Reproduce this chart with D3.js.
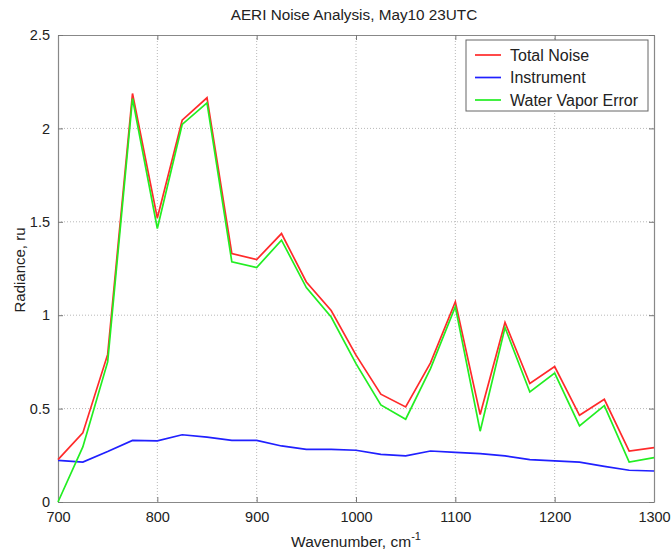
<!DOCTYPE html>
<html><head><meta charset="utf-8">
<script src="https://cdn.jsdelivr.net/npm/d3@7"></script>
<style>body{margin:0;background:#fff}svg{display:block;font-family:"Liberation Sans",Arial,sans-serif}</style>
</head><body><svg id="c" width="672" height="552"></svg>
<script>
const wavenumbers = [700,725,750,775,800,825,850,875,900,925,950,975,1000,1025,1050,1075,1100,1125,1150,1175,1200,1225,1250,1275,1300];
const totalNoise = [0.227,0.37,0.79,2.187,1.52,2.044,2.164,1.33,1.298,1.437,1.178,1.025,0.786,0.577,0.509,0.745,1.071,0.468,0.961,0.634,0.725,0.464,0.55,0.272,0.291];
const instrument = [0.223,0.214,0.27,0.33,0.327,0.36,0.347,0.33,0.33,0.30,0.282,0.282,0.277,0.255,0.247,0.273,0.266,0.259,0.247,0.227,0.22,0.213,0.191,0.17,0.166];
const waterVapor = [0.0,0.295,0.75,2.16,1.464,2.021,2.137,1.286,1.255,1.402,1.148,0.99,0.741,0.52,0.443,0.714,1.045,0.379,0.934,0.589,0.69,0.407,0.516,0.214,0.238];
const xTicks = [700,800,900,1000,1100,1200,1300];
const yTicks = [0,0.5,1,1.5,2,2.5];
const seriesNames = ["Total Noise","Instrument","Water Vapor Error"];
const seriesColors = ["#ff2a2a","#2020ff","#22ee22"];

const svg = d3.select("#c");
const L=58,R=654,T=35,B=502;
const x = d3.scaleLinear().domain([700,1300]).range([L,R]);
const y = d3.scaleLinear().domain([0,2.5]).range([B,T]);

// grid
const g = svg.append("g");
g.selectAll(".vg").data(xTicks.slice(1,-1)).join("line")
  .attr("x1",d=>x(d)).attr("x2",d=>x(d)).attr("y1",T).attr("y2",B)
  .attr("stroke","#b8b8b8").attr("stroke-width",1).attr("stroke-dasharray","1,2");
g.selectAll(".hg").data(yTicks.slice(1,-1)).join("line")
  .attr("y1",d=>y(d)).attr("y2",d=>y(d)).attr("x1",L).attr("x2",R)
  .attr("stroke","#b8b8b8").attr("stroke-width",1).attr("stroke-dasharray","1,2");

// axes
const fmt = d=>String(d);
const xb = svg.append("g").attr("transform",`translate(0,${B})`)
  .call(d3.axisBottom(x).tickValues(xTicks).tickFormat(fmt).tickSizeInner(-5).tickSizeOuter(0).tickPadding(10));
const xt = svg.append("g").attr("transform",`translate(0,${T})`)
  .call(d3.axisTop(x).tickValues(xTicks).tickFormat("").tickSizeInner(-5).tickSizeOuter(0));
const yl = svg.append("g").attr("transform",`translate(${L},0)`)
  .call(d3.axisLeft(y).tickValues(yTicks).tickFormat(fmt).tickSizeInner(-5).tickSizeOuter(0).tickPadding(8));
const yr = svg.append("g").attr("transform",`translate(${R},0)`)
  .call(d3.axisRight(y).tickValues(yTicks).tickFormat("").tickSizeInner(-5).tickSizeOuter(0));
[xb,xt,yl,yr].forEach(a=>{
  a.selectAll("path").attr("stroke","#888").attr("stroke-width",1.2);
  a.selectAll("line").attr("stroke","#777");
  a.selectAll("text").attr("fill","#222").attr("font-size",14.5).attr("font-family","Liberation Sans, Arial, sans-serif");
});

// lines
const seriesData = [totalNoise, instrument, waterVapor];
const line = d3.line().x((d,i)=>x(wavenumbers[i])).y(d=>y(d));
const order = [1,0,2];
order.forEach(k=>{
  svg.append("path").datum(seriesData[k]).attr("d",line)
    .attr("fill","none").attr("stroke",seriesColors[k]).attr("stroke-width",1.7).attr("stroke-linejoin","miter");
});

// title and labels
svg.append("text").attr("x",354).attr("y",20).attr("text-anchor","middle")
  .attr("font-size",15.3).attr("fill","#222").text("AERI Noise Analysis, May10 23UTC");
const xl = svg.append("text").attr("x",(L+R)/2).attr("y",547).attr("text-anchor","middle")
  .attr("font-size",15.5).attr("fill","#222");
xl.append("tspan").text("Wavenumber, cm");
xl.append("tspan").attr("dy",-7).attr("font-size",11).text("-1");
svg.append("text").attr("transform",`translate(25,270) rotate(-90)`).attr("text-anchor","middle")
  .attr("font-size",15).attr("fill","#222").text("Radiance, ru");

// legend
const lg = svg.append("g").attr("transform","translate(466,40)");
lg.append("rect").attr("width",182).attr("height",71).attr("fill","#fff").attr("stroke","#666").attr("stroke-width",1);
seriesNames.forEach((n,i)=>{
  const yy = 15 + i*22.5;
  lg.append("line").attr("x1",9).attr("x2",35).attr("y1",yy).attr("y2",yy).attr("stroke",seriesColors[i]).attr("stroke-width",1.7);
  lg.append("text").attr("x",44).attr("y",yy+5.5).attr("font-size",16).attr("fill","#222").text(n);
});
</script></body></html>
